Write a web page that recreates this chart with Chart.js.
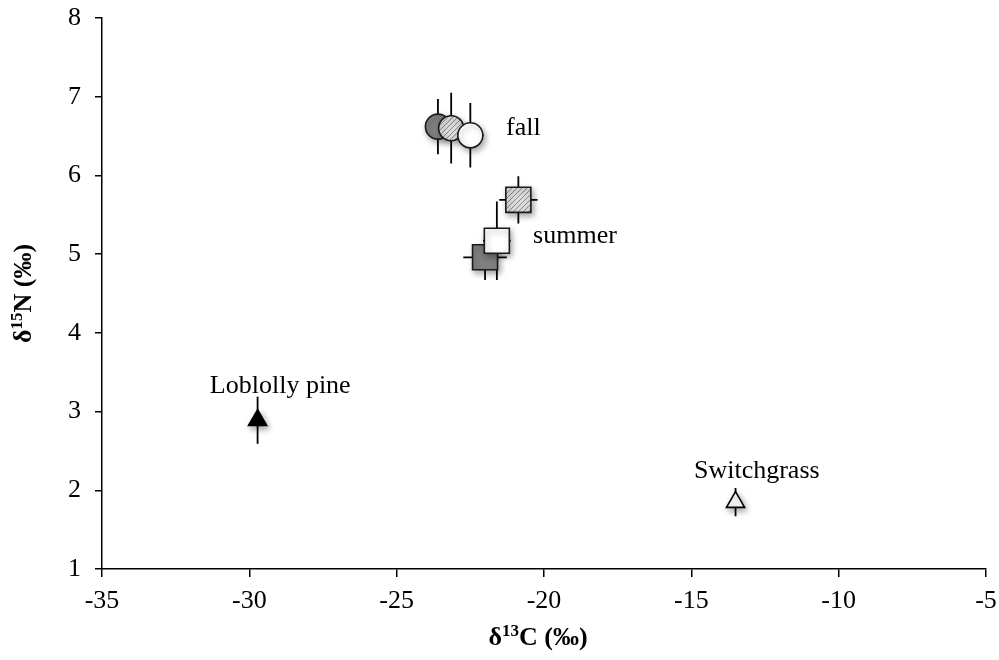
<!DOCTYPE html>
<html>
<head>
<meta charset="utf-8">
<script src="https://cdn.jsdelivr.net/npm/chart.js@4"></script>
<style>
  html, body { margin: 0; padding: 0; background: #fff; }
  #wrap { width: 999px; height: 660px; }
</style>
</head>
<body>
<div id="wrap"><canvas id="isotopes"></canvas></div>
<script>
// valores
const fallX = [-23.6, -23.15, -22.5];
const fallY = [6.62, 6.6, 6.51];
const fallXErr = [0.3, 0.3, 0.45];
const fallYErr = [0.35, 0.45, 0.41];

const summerX = [-22.0, -21.6, -20.87];
const summerY = [4.96, 5.17, 5.69];
const summerXErr = [0.74, 0.47, 0.65];
const summerYErr = [0.29, 0.5, 0.3];

const plantX = [-29.72, -13.5];
const plantY = [2.89, 1.85];
const plantXErr = [0, 0];
const plantYErr = [0.3, 0.18];

const xTicks = [-35, -30, -25, -20, -15, -10, -5];
const yTicks = [1, 2, 3, 4, 5, 6, 7, 8];

const noteText = ['fall', 'summer', 'Loblolly pine', 'Switchgrass'];
const noteX = [-21.29, -20.37, -31.34, -14.91];
const noteY = [6.51, 5.14, 3.235, 2.155];

// titulos de ejes: [texto, superindice, texto]
const xTitle = ['δ', '13', 'C (‰)'];
const yTitle = ['δ', '15', 'N (‰)'];

// relleno rayado para las muestras intermedias
function hatchPattern() {
    const c = document.createElement('canvas');
    c.width = 5; c.height = 5;
    const g = c.getContext('2d');
    g.fillStyle = '#dcdcdc';
    g.fillRect(0, 0, 5, 5);
    g.strokeStyle = '#8a8a8a';
    g.lineWidth = 1;
    g.beginPath();
    g.moveTo(0, 5); g.lineTo(5, 0);
    g.moveTo(-1, 1); g.lineTo(1, -1);
    g.moveTo(4, 6); g.lineTo(6, 4);
    g.stroke();
    return g.createPattern(c, 'repeat');
}

const canvas = document.getElementById('isotopes');
const hatch = hatchPattern();
const toPoints = (xs, ys) => xs.map((x, i) => ({x: x, y: ys[i]}));
const serif = '"Liberation Serif", "Times New Roman", serif';

const errorBars = {
    id: 'errorBars',
    beforeDatasetsDraw(chart) {
        const ctx = chart.ctx;
        const sx = chart.scales.x, sy = chart.scales.y;
        ctx.save();
        ctx.strokeStyle = '#000';
        ctx.lineWidth = 1.8;
        chart.data.datasets.forEach(ds => {
            ds.data.forEach((p, i) => {
                const px = sx.getPixelForValue(p.x);
                const py = sy.getPixelForValue(p.y);
                ctx.beginPath();
                if (ds.yErr[i]) {
                    ctx.moveTo(px, sy.getPixelForValue(p.y + ds.yErr[i]));
                    ctx.lineTo(px, sy.getPixelForValue(p.y - ds.yErr[i]));
                }
                if (ds.xErr[i]) {
                    ctx.moveTo(sx.getPixelForValue(p.x - ds.xErr[i]), py);
                    ctx.lineTo(sx.getPixelForValue(p.x + ds.xErr[i]), py);
                }
                ctx.stroke();
            });
        });
        ctx.restore();
    }
};

const markerShadow = {
    id: 'markerShadow',
    beforeDatasetsDraw(chart) {
        const ctx = chart.ctx;
        ctx.save();
        ctx.shadowColor = 'rgba(0,0,0,0.35)';
        ctx.shadowBlur = 6;
        ctx.shadowOffsetX = 2;
        ctx.shadowOffsetY = 3;
    },
    afterDatasetsDraw(chart) {
        chart.ctx.restore();
    }
};

const notes = {
    id: 'notes',
    afterDatasetsDraw(chart) {
        const ctx = chart.ctx;
        ctx.save();
        ctx.font = '26px ' + serif;
        ctx.fillStyle = '#000';
        ctx.textAlign = 'left';
        ctx.textBaseline = 'alphabetic';
        noteText.forEach((t, i) => {
            ctx.fillText(t, chart.scales.x.getPixelForValue(noteX[i]), chart.scales.y.getPixelForValue(noteY[i]));
        });
        ctx.restore();
    }
};

// dibuja un titulo con superindice centrado en (0,0) del contexto actual
function drawSupTitle(ctx, parts) {
    const big = 'bold 26px ' + serif, small = 'bold 17px ' + serif;
    ctx.font = big; const w0 = ctx.measureText(parts[0]).width;
    const w2 = ctx.measureText(parts[2]).width;
    ctx.font = small; const w1 = ctx.measureText(parts[1]).width;
    let x = -(w0 + w1 + w2) / 2;
    ctx.textBaseline = 'alphabetic';
    ctx.textAlign = 'left';
    ctx.font = big; ctx.fillText(parts[0], x, 0); x += w0;
    ctx.font = small; ctx.fillText(parts[1], x, -9); x += w1;
    ctx.font = big; ctx.fillText(parts[2], x, 0);
}

const axisTitles = {
    id: 'axisTitles',
    afterDraw(chart) {
        const ctx = chart.ctx, a = chart.chartArea;
        ctx.save();
        ctx.fillStyle = '#000';
        ctx.translate((a.left + a.right) / 2 - 6, 645);
        drawSupTitle(ctx, xTitle);
        ctx.restore();
        ctx.save();
        ctx.fillStyle = '#000';
        ctx.translate(31, (a.top + a.bottom) / 2);
        ctx.rotate(-Math.PI / 2);
        drawSupTitle(ctx, yTitle);
        ctx.restore();
    }
};

new Chart(canvas, {
    type: 'scatter',
    data: {
        datasets: [
            {
                label: 'fall',
                data: toPoints(fallX, fallY),
                xErr: fallXErr, yErr: fallYErr,
                pointStyle: 'circle',
                pointRadius: 12.5,
                backgroundColor: ['#808080', hatch, '#ffffff'],
                borderColor: '#1a1a1a',
                borderWidth: 1.6
            },
            {
                label: 'summer',
                data: toPoints(summerX, summerY),
                xErr: summerXErr, yErr: summerYErr,
                pointStyle: 'rect',
                pointRadius: 17.7,
                backgroundColor: ['#808080', '#ffffff', hatch],
                borderColor: '#1a1a1a',
                borderWidth: 1.6
            },
            {
                label: 'plants',
                data: toPoints(plantX, plantY),
                xErr: plantXErr, yErr: plantYErr,
                pointStyle: 'triangle',
                pointRadius: 10.5,
                backgroundColor: ['#000000', '#ffffff'],
                borderColor: '#000',
                borderWidth: 1.6
            }
        ]
    },
    options: {
        responsive: true,
        maintainAspectRatio: false,
        animation: false,
        events: [],
        layout: { autoPadding: false, padding: { top: 18, right: 13, left: 0, bottom: 0 } },
        plugins: {
            legend: { display: false },
            tooltip: { enabled: false }
        },
        scales: {
            x: {
                type: 'linear',
                min: -35, max: -5,
                afterBuildTicks: s => { s.ticks = xTicks.map(v => ({value: v})); },
                afterFit: s => { s.height = 91; s.paddingLeft = 0; s.paddingRight = 0; },
                grid: { drawOnChartArea: false, drawTicks: true, tickLength: 8, color: '#000', lineWidth: 1.5 },
                border: { color: '#000', width: 1.5 },
                ticks: { color: '#000', padding: 9, maxRotation: 0, font: { family: serif, size: 26 } },
                title: { display: false }
            },
            y: {
                type: 'linear',
                min: 1, max: 8,
                afterBuildTicks: s => { s.ticks = yTicks.map(v => ({value: v})); },
                afterFit: s => { s.width = 102; s.paddingTop = 0; s.paddingBottom = 0; },
                grid: { drawOnChartArea: false, drawTicks: true, tickLength: 7, color: '#000', lineWidth: 1.5 },
                border: { color: '#000', width: 1.5 },
                ticks: { color: '#000', padding: 14, font: { family: serif, size: 26 } },
                title: { display: false }
            }
        }
    },
    plugins: [errorBars, markerShadow, notes, axisTitles]
});
</script>
</body>
</html>
